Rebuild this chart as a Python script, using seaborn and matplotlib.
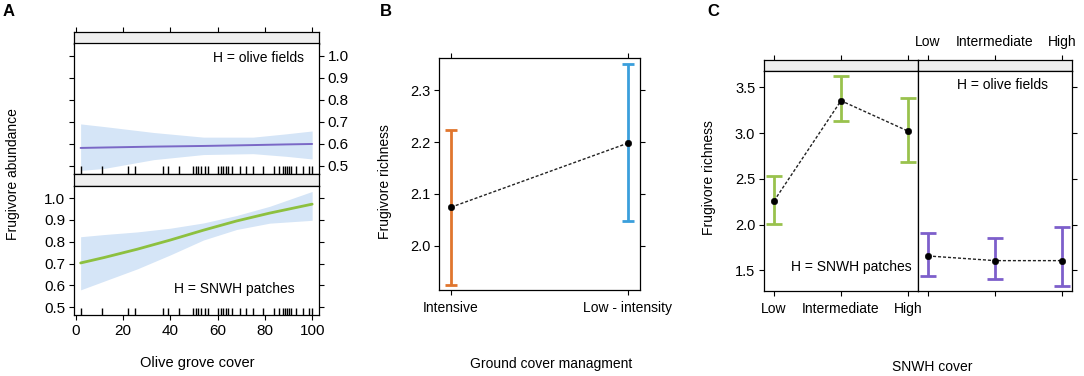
import numpy as np
import pandas as pd
import matplotlib
matplotlib.use("Agg")
import matplotlib.pyplot as plt
import seaborn as sns

# ---------------- data ----------------
# Panel A: olive grove cover effect (two habitats)
olive_x = [2, 12, 33, 54, 75, 89, 100]
olive_fit = [0.581, 0.583, 0.587, 0.590, 0.594, 0.597, 0.599]
olive_lo = [0.479, 0.488, 0.528, 0.551, 0.555, 0.543, 0.531]
olive_hi = [0.690, 0.678, 0.651, 0.630, 0.630, 0.645, 0.658]

snwh_x = [2, 12, 26, 40, 54, 68, 82, 100]
snwh_fit = [0.703, 0.728, 0.766, 0.808, 0.853, 0.895, 0.931, 0.972]
snwh_lo = [0.580, 0.620, 0.676, 0.740, 0.808, 0.856, 0.885, 0.898]
snwh_hi = [0.823, 0.833, 0.845, 0.862, 0.886, 0.920, 0.962, 1.030]

rug_x = [2, 11, 22, 25, 37, 39, 43.5, 49.5, 50.7, 51.8, 53, 54.5, 56, 60.2,
         61.3, 62.4, 63.4, 64.4, 66, 69.5, 72, 75, 79, 84, 86, 87.5, 88.5,
         89.3, 90.2, 91.2, 93, 96, 98.5, 100]
a_xticks = [0, 20, 40, 60, 80, 100]
a_yticks = [0.5, 0.6, 0.7, 0.8, 0.9, 1.0]

# Panel B: ground cover management
b_cats = ["Intensive", "Low - intensity"]
b_est = [2.0745, 2.198]
b_lo = [1.924, 2.0475]
b_hi = [2.223, 2.351]
b_yticks = [2.0, 2.1, 2.2, 2.3]

# Panel C: SNWH cover by habitat
c_cats = ["Low", "Intermediate", "High"]
c_snwh_est = [2.259, 3.354, 3.022]
c_snwh_lo = [2.011, 3.135, 2.682]
c_snwh_hi = [2.536, 3.620, 3.383]
c_olive_est = [1.657, 1.606, 1.606]
c_olive_lo = [1.442, 1.405, 1.332]
c_olive_hi = [1.909, 1.850, 1.971]
c_yticks = [1.5, 2.0, 2.5, 3.0, 3.5]

# ---------------- style ----------------
sns.set_theme(style="white")
plt.rcParams["font.family"] = ["Liberation Sans", "DejaVu Sans"]
plt.rcParams["axes.linewidth"] = 0.9
plt.rcParams["axes.edgecolor"] = "black"

FS = 10
W, H = 1084, 376
fig = plt.figure(figsize=(W / 100, H / 100), dpi=100)
fig.patch.set_facecolor("white")


def box(x0, y0, x1, y1):
    return fig.add_axes([x0 / W, 1 - y1 / H, (x1 - x0) / W, (y1 - y0) / H])


def ftext(x, y, s, **kw):
    kw.setdefault("fontsize", FS)
    fig.text(x / W, 1 - y / H, s, color="black", **kw)


def base(ax, fs=FS):
    ax.set_facecolor("white")
    for sp in ax.spines.values():
        sp.set_visible(True)
        sp.set_color("black")
        sp.set_linewidth(0.9)
    ax.tick_params(direction="out", length=3.8, width=0.8, colors="black",
                   labelsize=fs, pad=2.5)
    ax.set_xlabel("")
    ax.set_ylabel("")


def strip(ax):
    base(ax)
    ax.set_facecolor("#EFEFEF")
    ax.set_yticks([])


BAND = "#D5E5F7"

# ---------------- Panel A ----------------
XL_A = (-0.8, 102.9)
YL_A = (0.465, 1.055)
FSA = 11

s1 = box(74, 32, 319, 43.5)
strip(s1)
s1.set_xlim(XL_A)
s1.set_xticks(a_xticks)
s1.tick_params(axis="x", top=True, bottom=False, labeltop=False, labelbottom=False)

a1 = box(74, 43.5, 319, 173.5)
base(a1, FSA)
a1.fill_between(olive_x, olive_lo, olive_hi, color=BAND, lw=0)
sns.lineplot(x=olive_x, y=olive_fit, ax=a1, color="#7A68C6", lw=1.4)
sns.rugplot(x=rug_x, ax=a1, height=0.055, color="black", lw=1)
a1.set_xlim(XL_A)
a1.set_ylim(YL_A)
a1.set_yticks(a_yticks)
a1.set_yticklabels([f"{v:.1f}" for v in a_yticks])
a1.set_xticks([])
a1.tick_params(axis="y", left=True, right=True, labelleft=False, labelright=True)

s2 = box(74, 173.5, 319, 186)
strip(s2)
s2.set_xlim(XL_A)
s2.set_xticks([])

a2 = box(74, 186, 319, 315)
base(a2, FSA)
a2.fill_between(snwh_x, snwh_lo, snwh_hi, color=BAND, lw=0)
sns.lineplot(x=snwh_x, y=snwh_fit, ax=a2, color="#8DC03F", lw=2)
sns.rugplot(x=rug_x, ax=a2, height=0.055, color="black", lw=1)
a2.set_xlim(XL_A)
a2.set_ylim(YL_A)
a2.set_yticks(a_yticks)
a2.set_yticklabels([f"{v:.1f}" for v in a_yticks])
a2.set_xticks(a_xticks)
a2.tick_params(axis="y", left=True, right=True, labelleft=True, labelright=False)
a2.tick_params(axis="x", bottom=True, top=False, labelbottom=True)

ftext(304, 58, "H = olive fields", ha="right", va="center")
ftext(295, 289, "H = SNWH patches", ha="right", va="center")
ftext(13, 174, "Frugivore abundance", rotation=90, ha="center", va="center")
ftext(197, 363, "Olive grove cover", ha="center", va="center", fontsize=10.5)
ftext(3, 12, "A", fontsize=12, fontweight="bold", ha="left", va="center")

# ---------------- Panel B ----------------
b = box(439, 58, 640, 290)
base(b)
bx = np.arange(len(b_cats))
b_cols = ["#E0762E", "#3B9FDC"]
for i in range(len(b_cats)):
    b.errorbar([bx[i]], [b_est[i]], yerr=[[b_est[i] - b_lo[i]], [b_hi[i] - b_est[i]]],
               fmt="none", ecolor=b_cols[i], elinewidth=2, capsize=4.5, capthick=2)
sns.lineplot(x=bx, y=b_est, ax=b, color="#222222", lw=1, linestyle=(0, (2.2, 1.4)))
sns.scatterplot(x=bx, y=b_est, ax=b, color="black", s=22, edgecolor="black", zorder=5)
b.set_xlim(-0.068, 1.068)
b.set_ylim(1.915, 2.362)
b.set_xticks(bx)
b.set_xticklabels(b_cats)
b.set_yticks(b_yticks)
b.set_yticklabels([f"{v:.1f}" for v in b_yticks], fontsize=10.5)
b.tick_params(axis="x", top=True, bottom=True, labelbottom=True, pad=4)
b.tick_params(axis="y", left=True, right=True, labelleft=True, labelright=False)
ftext(385.5, 182, "Frugivore richness", rotation=90, ha="center", va="center")
ftext(551, 364, "Ground cover managment", ha="center", va="center")
ftext(380, 12, "B", fontsize=12, fontweight="bold", ha="left", va="center")

# ---------------- Panel C ----------------
XL_C = (-0.15, 2.15)
YL_C = (1.274, 3.682)
cx = np.arange(len(c_cats))

cs1 = box(764, 60, 918, 70.7)
strip(cs1)
cs1.set_xlim(XL_C)
cs1.set_xticks(cx)
cs1.tick_params(axis="x", top=True, bottom=False, labeltop=False, labelbottom=False)

cs2 = box(918, 60, 1072, 70.7)
strip(cs2)
cs2.set_xlim(XL_C)
cs2.set_xticks(cx)
cs2.set_xticklabels(c_cats)
cs2.tick_params(axis="x", top=True, bottom=False, labeltop=True, labelbottom=False, pad=4)

c1 = box(764, 70.7, 918, 291)
base(c1)
c1.errorbar(cx, c_snwh_est,
            yerr=[np.subtract(c_snwh_est, c_snwh_lo), np.subtract(c_snwh_hi, c_snwh_est)],
            fmt="none", ecolor="#99C24D", elinewidth=2, capsize=5.5, capthick=2)
sns.lineplot(x=cx, y=c_snwh_est, ax=c1, color="#222222", lw=1, linestyle=(0, (2.2, 1.4)))
sns.scatterplot(x=cx, y=c_snwh_est, ax=c1, color="black", s=22, edgecolor="black", zorder=5)
c1.set_xlim(XL_C)
c1.set_ylim(YL_C)
c1.set_xticks(cx)
c1.set_xticklabels(c_cats)
c1.set_yticks(c_yticks)
c1.set_yticklabels([f"{v:.1f}" for v in c_yticks], fontsize=10.5)
c1.tick_params(axis="x", bottom=True, top=False, labelbottom=True, pad=4)
c1.tick_params(axis="y", left=True, right=False, labelleft=True)

c2 = box(918, 70.7, 1072, 291)
base(c2)
c2.errorbar(cx, c_olive_est,
            yerr=[np.subtract(c_olive_est, c_olive_lo), np.subtract(c_olive_hi, c_olive_est)],
            fmt="none", ecolor="#7D5FCB", elinewidth=2, capsize=5.5, capthick=2)
sns.lineplot(x=cx, y=c_olive_est, ax=c2, color="#222222", lw=1, linestyle=(0, (2.2, 1.4)))
sns.scatterplot(x=cx, y=c_olive_est, ax=c2, color="black", s=22, edgecolor="black", zorder=5)
c2.set_xlim(XL_C)
c2.set_ylim(YL_C)
c2.set_xticks(cx)
c2.set_yticks(c_yticks)
c2.tick_params(axis="x", bottom=True, top=False, labelbottom=False)
c2.tick_params(axis="y", left=False, right=True, labelleft=False, labelright=False)

ftext(1002.5, 85, "H = olive fields", ha="center", va="center")
ftext(912, 267, "H = SNWH patches", ha="right", va="center")
ftext(709.5, 178, "Frugivore richness", rotation=90, ha="center", va="center")
ftext(932, 367, "SNWH cover", ha="center", va="center")
ftext(707, 12, "C", fontsize=12, fontweight="bold", ha="left", va="center")

fig.savefig("out.png", dpi=100, facecolor="white")
